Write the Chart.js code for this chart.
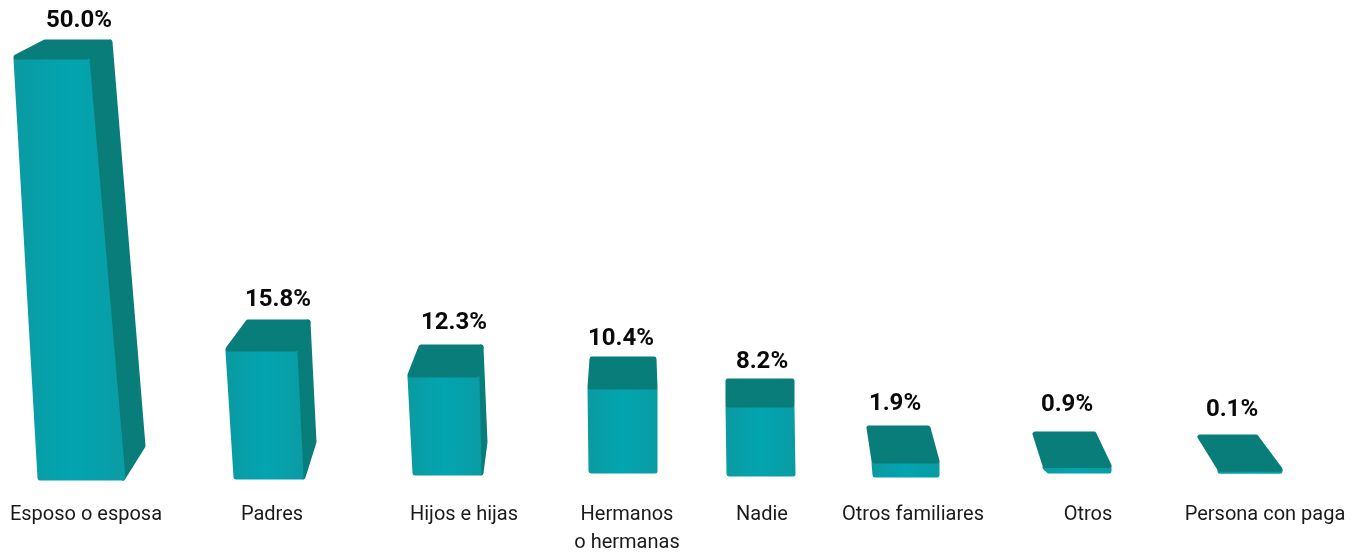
<!DOCTYPE html>
<html>
<head>
<meta charset="utf-8">
<title>Chart</title>
<script src="https://cdn.jsdelivr.net/npm/chart.js"></script>
<style>
    html, body { margin: 0; padding: 0; background: #ffffff; }
    canvas { display: block; }
</style>
</head>
<body>
<canvas id="cuidado" width="1357" height="553"></canvas>
<script>
const categories = ['Esposo o esposa', 'Padres', 'Hijos e hijas', ['Hermanos', 'o hermanas'],
    'Nadie', 'Otros familiares', 'Otros', 'Persona con paga'];
const values = [50.0, 15.8, 12.3, 10.4, 8.2, 1.9, 0.9, 0.1];

// label centres along the page, the slots are not evenly spaced in the picture
const slots = [86, 272, 464, 627, 762, 913, 1088, 1265];

// 3d look of every box, offsets from the bar element (x, y, base)
// l r: front top, bl br: front bottom, bkl bkr: back edge, sx sy: side corner
const boxes = [
    { l: -71, r: 2, bl: -47, br: 38, bkl: -42, bkr: 23, sx: 58, sy: -27, rise: 17, sag: 0, drop: 5, tx: -7, ty: -37 },
    { l: -45, r: 24, bl: -37, br: 30, bkl: -25, bkr: 37, sx: 43, sy: -31, rise: 21.5, sag: 7.5, drop: 4, tx: 6, ty: -42.5 },
    { l: -55, r: 14, bl: -50, br: 16, bkl: -44, bkr: 18, sx: 22, sy: -31, rise: 25.7, sag: 4.3, drop: 0, tx: -10, ty: -48.7 },
    { l: -38, r: 29, bl: -37, br: 29, bkl: -36, bkr: 28, sx: 29, sy: -20, rise: 29.5, sag: 0.5, drop: -2, tx: -6, ty: -48.5 },
    { l: -35, r: 31, bl: -34, br: 32, bkl: -35, bkr: 31, sx: 32, sy: -20, rise: 25.8, sag: 0.2, drop: 1, tx: 0, ty: -43.8 },
    { l: -40, r: 25, bl: -39, br: 25, bkl: -45, bkr: 16, sx: 25, sy: 0, rise: 31.2, sag: 3.8, drop: 2, tx: -18, ty: -54.2 },
    { l: -44, r: 22, bl: -40, br: 22, bkl: -54, bkr: 7, sx: 22, sy: 0, rise: 33.5, sag: 0, drop: -2, tx: -21, ty: -61.5 },
    { l: -46, r: 16, bl: -46, br: 16, bkl: -66, bkr: -8, sx: 16, sy: 0, rise: 37.2, sag: -3, drop: -3, tx: -33, ty: -63.2 }
];

const darkTeal = '#087d79';

function poly(ctx, pts, fill) {
    // pull the corners in a little, the thick round stroke gives them back soft
    const cx = pts.reduce(function (s, p) { return s + p[0]; }, 0) / pts.length;
    const cy = pts.reduce(function (s, p) { return s + p[1]; }, 0) / pts.length;
    ctx.beginPath();
    pts.forEach(function (p) {
        ctx.lineTo(p[0] + Math.sign(cx - p[0]), p[1] + Math.sign(cy - p[1]));
    });
    ctx.closePath();
    ctx.fillStyle = fill;
    ctx.strokeStyle = fill;
    ctx.lineWidth = 5;
    ctx.lineJoin = 'round';
    ctx.fill();
    ctx.stroke();
}

const boxPlugin = {
    id: 'boxes',
    // the library keeps the bars and the scales, only the painting is replaced
    beforeDatasetDraw(chart, args) {
        const ctx = chart.ctx;
        args.meta.data.forEach(function (bar, i) {
            const b = boxes[i];
            const top = bar.y + b.sag;
            const back = bar.y - b.rise;
            const bottom = bar.base + b.drop;

            if (b.sx > b.br) {
                poly(ctx, [[bar.x + b.r, top], [bar.x + b.bkr, back], [bar.x + b.sx, bar.base + b.sy], [bar.x + b.br, bottom]], darkTeal);
            }

            const grad = ctx.createLinearGradient(bar.x + b.l, 0, bar.x + Math.max(b.r, b.br), 0);
            grad.addColorStop(0, '#0a9aa2');
            grad.addColorStop(0.5, '#02a5b1');
            grad.addColorStop(1, '#0a9ca4');
            poly(ctx, [[bar.x + b.l, top], [bar.x + b.r, top], [bar.x + b.br, bottom], [bar.x + b.bl, bottom]], grad);

            poly(ctx, [[bar.x + b.l, top], [bar.x + b.bkl, back], [bar.x + b.bkr, back], [bar.x + b.r, top]], darkTeal);

            ctx.save();
            ctx.font = 'bold 24px Roboto';
            ctx.fillStyle = '#0a0a0a';
            ctx.textAlign = 'center';
            ctx.textBaseline = 'middle';
            ctx.fillText(values[i].toFixed(1) + '%', bar.x + b.tx, bar.y + b.ty);
            ctx.restore();
        });
        return false;
    }
};

new Chart(document.getElementById('cuidado'), {
    type: 'bar',
    data: {
        datasets: [
            {
                label: 'Porcentaje',
                data: values.map(function (v, i) { return { x: slots[i], y: v }; }),
                backgroundColor: '#02a5b1',
                barThickness: 70
            }
        ]
    },
    plugins: [boxPlugin],
    options: {
        responsive: false,
        animation: false,
        layout: { padding: { top: 58, left: 0, right: 0, bottom: 0 } },
        plugins: {
            legend: { display: false },
            title: { display: false },
            tooltip: { enabled: false }
        },
        scales: {
            x: {
                type: 'linear',
                offset: false,
                min: 0,
                max: 1357,
                grid: { display: false, drawTicks: false },
                border: { display: false },
                afterBuildTicks: function (axis) {
                    axis.ticks = slots.map(function (s) { return { value: s }; });
                },
                afterFit: function (axis) {
                    // labels near the edges must not squeeze the scale
                    axis.height = 79;
                    axis.paddingLeft = 0;
                    axis.paddingRight = 0;
                },
                ticks: {
                    autoSkip: false,
                    maxRotation: 0,
                    padding: 27,
                    color: '#1a1a1a',
                    font: { family: 'Roboto', size: 20, lineHeight: 1.4 },
                    callback: function (value) {
                        return categories[slots.indexOf(value)];
                    }
                }
            },
            y: {
                display: false,
                min: 0,
                max: 50
            }
        }
    }
});
</script>
</body>
</html>
